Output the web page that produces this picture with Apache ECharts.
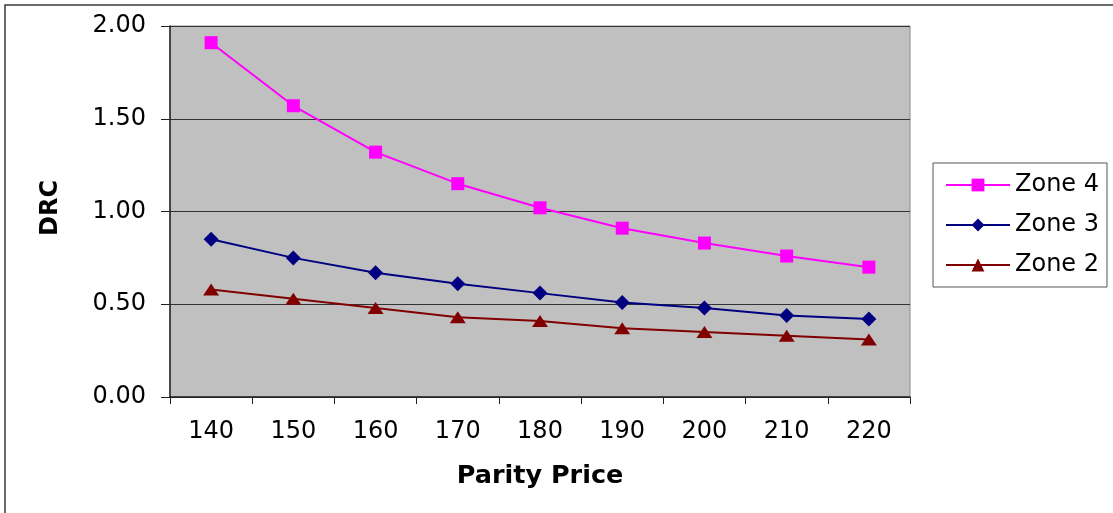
<!DOCTYPE html>
<html>
<head>
<meta charset="utf-8">
<script src="https://cdn.jsdelivr.net/npm/echarts@6/dist/echarts.min.js"></script>
<style>
html,body{margin:0;padding:0;background:#fff;}
#chart{width:1113px;height:513px;}
</style>
</head>
<body>
<div id="chart"></div>
<script>
var categories = ['140', '150', '160', '170', '180', '190', '200', '210', '220'];
var zone4 = [1.91, 1.57, 1.32, 1.15, 1.02, 0.91, 0.83, 0.76, 0.70];
var zone3 = [0.85, 0.75, 0.67, 0.61, 0.56, 0.51, 0.48, 0.44, 0.42];
var zone2 = [0.58, 0.53, 0.48, 0.43, 0.41, 0.37, 0.35, 0.33, 0.31];
var seriesNames = ['Zone 4', 'Zone 3', 'Zone 2'];
var xTitle = 'Parity Price';
var yTitle = 'DRC';

var FONT = 'DejaVu Sans';
var chart = echarts.init(document.getElementById('chart'));
chart.setOption({
  animation: false,
  backgroundColor: '#ffffff',
  textStyle: { fontFamily: FONT },
  graphic: [
    { type: 'rect', x: 5, y: 5, shape: { x: 0, y: 0, width: 1200, height: 600 },
      style: { fill: 'none', stroke: '#3a3a3a', lineWidth: 1.5 }, silent: true },
    { type: 'text', x: 540, y: 476,
      style: { text: xTitle, font: 'bold 25.5px "DejaVu Sans"', fill: '#000', textAlign: 'center', textVerticalAlign: 'middle' }, silent: true },
    { type: 'text', x: 51, y: 208, rotation: Math.PI / 2,
      style: { text: yTitle, font: 'bold 24px "DejaVu Sans"', fill: '#000', textAlign: 'center', textVerticalAlign: 'middle' }, silent: true }
  ],
  grid: {
    left: 170, right: 203, top: 26, bottom: 116,
    show: true, backgroundColor: '#C0C0C0', borderColor: '#8a8a8a', borderWidth: 1
  },
  legend: {
    orient: 'vertical',
    left: 933, top: 163,
    padding: [8, 8, 8, 12],
    itemWidth: 64, itemHeight: 16, itemGap: 12,
    borderColor: '#555', borderWidth: 1,
    backgroundColor: '#fff',
    textStyle: { fontFamily: FONT, fontSize: 24, color: '#000', lineHeight: 28 },
    data: seriesNames
  },
  xAxis: {
    type: 'category',
    data: categories,
    boundaryGap: true,
    axisLine: { lineStyle: { color: '#222', width: 1.5 } },
    axisTick: { show: true, length: 7, lineStyle: { color: '#222', width: 1 } },
    axisLabel: { fontFamily: FONT, fontSize: 24, color: '#000', margin: 23 },
    splitLine: { show: false }
  },
  yAxis: {
    type: 'value',
    min: 0, max: 2, interval: 0.5,
    axisLine: { show: true, lineStyle: { color: '#222', width: 1.5 } },
    axisTick: { show: true, length: 9, lineStyle: { color: '#222' } },
    axisLabel: { fontFamily: FONT, fontSize: 24, color: '#000', margin: 24,
      formatter: function (v) { return v.toFixed(2); } },
    splitLine: { show: true, lineStyle: { color: '#333', width: 1 } }
  },
  series: [
    { name: seriesNames[0], type: 'line', data: zone4, symbol: 'rect', symbolSize: 13,
      lineStyle: { color: '#FF00FF', width: 2 }, itemStyle: { color: '#FF00FF' } },
    { name: seriesNames[1], type: 'line', data: zone3, symbol: 'diamond', symbolSize: 15,
      lineStyle: { color: '#000080', width: 2 }, itemStyle: { color: '#000080' } },
    { name: seriesNames[2], type: 'line', data: zone2, symbol: 'triangle', symbolSize: [16, 12],
      lineStyle: { color: '#800000', width: 2 }, itemStyle: { color: '#800000' } }
  ]
});
</script>
</body>
</html>
